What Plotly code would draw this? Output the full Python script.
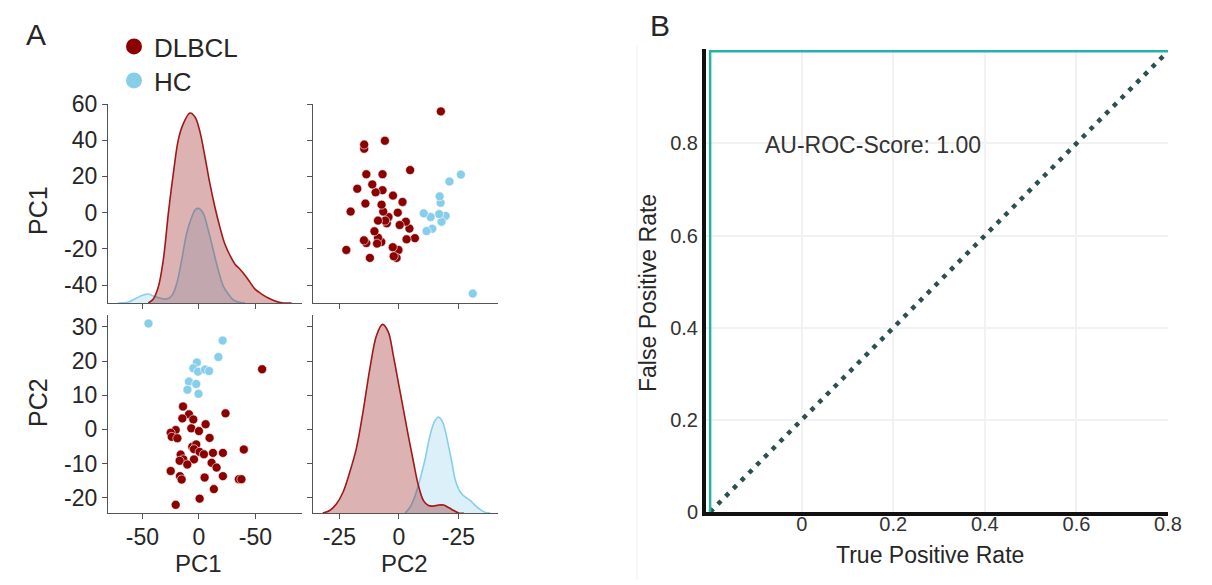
import plotly.graph_objects as go

# ---------------- data ----------------
groups = ["DLBCL", "HC"]

dlbcl_pc1 = [55.9, -14.1, 23.5, -8.8, -14.7, -5.0, 5.9, -6.8, 0.0, -20.6, -25.0, -24.1, -19.1,
             9.4, -5.9, -2.4, -4.4, 0.6, 4.4, 12.4, 21.2, 39.7, -16.2, -13.8, -17.1, -4.4,
             -10.3, 11.2, 15.6, -25.0, -16.8, -15.3, 5.0, 21.2, 35.3, 37.6, 13.2, 0.6, -20.6]
dlbcl_pc2 = [17.6, 6.7, 4.7, 4.4, 3.2, 2.9, 1.5, 0.3, -0.5, -0.2, -1.0, -2.2, -2.6,
             -2.5, -5.1, -4.4, -5.8, -6.6, -7.3, -6.9, -6.9, -5.9, -7.4, -8.8, -9.2, -8.8,
             -10.3, -9.8, -11.2, -12.2, -13.7, -14.7, -14.1, -13.7, -14.6, -14.6, -17.5, -20.3, -22.1]

hc_pc1 = [-44.7, 21.0, 17.2, -1.8, -5.0, -0.8, 5.4, 9.0, -8.9, -2.4, -10.2, -0.4]
hc_pc2 = [31.0, 26.0, 21.2, 19.6, 17.9, 16.9, 17.5, 17.1, 14.0, 13.3, 11.6, 10.4]

# KDE curves (value grid, density)
dlbcl_pc1_grid = [-44.8, -40.4, -36.0, -31.6, -27.1, -22.7, -18.3, -13.9, -8.0, -3.5, 0.9, 5.3, 9.7,
                  14.2, 18.6, 23.0, 27.4, 31.9, 36.3, 40.7, 45.1, 49.6, 55.5, 61.4, 67.3, 74.6, 82.0]
dlbcl_pc1_dens = [0, 0.0004, 0.0016, 0.0043, 0.0090, 0.0130, 0.0164, 0.0180, 0.0191, 0.0187, 0.0172,
                  0.0147, 0.0120, 0.0096, 0.0076, 0.0059, 0.0048, 0.0039, 0.0034, 0.0028, 0.0021,
                  0.0014, 0.0009, 0.0005, 0.0002, 0.0, 0]
hc_pc1_grid = [-71.4, -62.5, -55.2, -49.3, -44.8, -40.4, -34.5, -28.6, -24.2, -19.8, -15.3, -10.9,
               -6.5, -3.0, 0.0, 3.8, 8.3, 12.7, 17.1, 21.5, 26.0, 30.4, 34.8, 40.7]
hc_pc1_dens = [0, 0.0001, 0.0005, 0.0008, 0.0009, 0.0007, 0.0005, 0.0004, 0.0007, 0.0019, 0.0043,
               0.0070, 0.0086, 0.0094, 0.0095, 0.0090, 0.0073, 0.0053, 0.0033, 0.0017, 0.0009,
               0.0003, 0.0001, 0]

dlbcl_pc2_grid = [-32.0, -29.1, -26.3, -23.5, -20.7, -17.9, -15.1, -12.2, -9.4, -6.9, -4.5, -2.4,
                  -0.3, 1.8, 3.9, 6.1, 8.2, 10.3, 12.4, 14.5, 16.6, 18.7, 20.8, 23.0, 25.1, 27.2]
dlbcl_pc2_dens = [0, 0.0005, 0.0018, 0.0042, 0.0082, 0.0130, 0.0204, 0.0292, 0.0359, 0.0381, 0.0366,
                  0.0319, 0.0265, 0.0211, 0.0157, 0.0103, 0.0055, 0.0025, 0.0015, 0.0014, 0.0016,
                  0.0016, 0.0011, 0.0005, 0, 0]
hc_pc2_grid = [2.5, 4.6, 6.8, 8.9, 11.0, 12.4, 13.8, 15.2, 16.6, 18.0, 19.4, 20.8, 22.2, 23.7,
               25.8, 27.9, 30.0, 32.1, 34.2, 36.3, 38.4]
hc_pc2_dens = [0, 0.0011, 0.0035, 0.0069, 0.0109, 0.0143, 0.0170, 0.0187, 0.0194, 0.0187, 0.0167,
               0.0136, 0.0103, 0.0066, 0.0042, 0.0032, 0.0025, 0.0015, 0.0007, 0.0001, 0]

pc1_ticks = [-50, 0, 50]
pc1_ticktext = ["-50", "0", "-50"]
pc2_ticks = [-25, 0, 25]
pc2_ticktext = ["-25", "0", "-25"]
pc1_row_ticks = [60, 40, 20, 0, -20, -40]
pc1_row_ticktext = ["60", "40", "20", "0", "-20", "-40"]
pc2_row_ticks = [30, 20, 10, 0, -10, -20]
pc2_row_ticktext = ["30", "20", "10", "0", "-10", "-20"]

roc_x = [-0.2, -0.2, 0.8]
roc_y = [0.0, 1.0, 1.0]
chance_x = [-0.2, 0.8]
chance_y = [0.0, 1.0]
roc_ticks = [0, 0.2, 0.4, 0.6, 0.8]
roc_ticktext = ["0", "0.2", "0.4", "0.6", "0.8"]
auc_text = "AU-ROC-Score: 1.00"

# ---------------- style ----------------
W, H = 1212, 585
FONT = "Liberation Sans, Arial, sans-serif"
C_DL = "#8b0000"
C_HC = "#87ceeb"
FILL_DL = "rgba(139,0,0,0.30)"
FILL_HC = "rgba(135,206,235,0.30)"
AXC = "#555555"
TXT = "#262626"


def px(x):
    return x / W


def py(y):
    return 1 - y / H


fig = go.Figure()

# empty traces so that the base subplots of the diagonal panels exist
fig.add_trace(go.Scatter(x=[None], y=[None], xaxis="x", yaxis="y", showlegend=False))
fig.add_trace(go.Scatter(x=[None], y=[None], xaxis="x4", yaxis="y4", showlegend=False))

# Top-left: PC1 densities
fig.add_trace(go.Scatter(x=hc_pc1_grid, y=hc_pc1_dens, mode="lines", xaxis="x", yaxis="y5",
                         line=dict(color=C_HC, width=1.6, shape="spline"),
                         fill="tozeroy", fillcolor=FILL_HC, showlegend=False, hoverinfo="skip"))
fig.add_trace(go.Scatter(x=dlbcl_pc1_grid, y=dlbcl_pc1_dens, mode="lines", xaxis="x", yaxis="y5",
                         line=dict(color="#a11818", width=1.6, shape="spline"),
                         fill="tozeroy", fillcolor=FILL_DL, showlegend=False, hoverinfo="skip"))

mk_dl = dict(color=C_DL, size=9, line=dict(color="white", width=0.6))
mk_hc = dict(color=C_HC, size=9, line=dict(color="white", width=0.6))

# Top-right: x=PC2, y=PC1
fig.add_trace(go.Scatter(x=dlbcl_pc2, y=dlbcl_pc1, mode="markers", xaxis="x2", yaxis="y2",
                         marker=mk_dl, showlegend=False, name="DLBCL"))
fig.add_trace(go.Scatter(x=hc_pc2, y=hc_pc1, mode="markers", xaxis="x2", yaxis="y2",
                         marker=mk_hc, showlegend=False, name="HC"))
# Bottom-left: x=PC1, y=PC2
fig.add_trace(go.Scatter(x=dlbcl_pc1, y=dlbcl_pc2, mode="markers", xaxis="x3", yaxis="y3",
                         marker=mk_dl, showlegend=False, name="DLBCL"))
fig.add_trace(go.Scatter(x=hc_pc1, y=hc_pc2, mode="markers", xaxis="x3", yaxis="y3",
                         marker=mk_hc, showlegend=False, name="HC"))

# Bottom-right: PC2 densities
fig.add_trace(go.Scatter(x=hc_pc2_grid, y=hc_pc2_dens, mode="lines", xaxis="x4", yaxis="y6",
                         line=dict(color=C_HC, width=1.6, shape="spline"),
                         fill="tozeroy", fillcolor=FILL_HC, showlegend=False, hoverinfo="skip"))
fig.add_trace(go.Scatter(x=dlbcl_pc2_grid, y=dlbcl_pc2_dens, mode="lines", xaxis="x4", yaxis="y6",
                         line=dict(color="#a11818", width=1.6, shape="spline"),
                         fill="tozeroy", fillcolor=FILL_DL, showlegend=False, hoverinfo="skip"))

# ROC
fig.add_trace(go.Scatter(x=chance_x, y=chance_y, mode="lines", xaxis="x5", yaxis="y7",
                         line=dict(color="#2c4f4f", width=4.5, dash="4.5px,6.5px"),
                         showlegend=False))
fig.add_trace(go.Scatter(x=roc_x, y=roc_y, mode="lines", xaxis="x5", yaxis="y7",
                         line=dict(color="#26b3a6", width=2.5), showlegend=False))

# legend entries (one legend box per entry so the spacing can follow the reference)
fig.add_trace(go.Scatter(x=[None], y=[None], mode="markers", name=groups[0], legend="legend",
                         marker=dict(color=C_DL, size=17), xaxis="x3", yaxis="y3"))
fig.add_trace(go.Scatter(x=[None], y=[None], mode="markers", name=groups[1], legend="legend2",
                         marker=dict(color=C_HC, size=17), xaxis="x3", yaxis="y3"))

base_ax = dict(showline=True, linecolor=AXC, linewidth=1.3, ticks="outside", ticklen=5,
               tickwidth=1.2, tickcolor=AXC, showgrid=False, zeroline=False,
               tickfont=dict(size=23, color=TXT, family=FONT))

XA = [px(108), px(302)]
XB = [px(313), px(498)]
YT = [py(303), py(104)]
YB = [py(513), py(315)]
pc1_range = [-80.5, 91.2]
pc2_range = [-36.1, 41.6]
pc1_row_range = [-49.9, 60]
pc2_row_range = [-24.5, 33.5]

leg_common = dict(xanchor="left", yanchor="top", font=dict(size=26, color=TXT, family=FONT),
                  bgcolor="rgba(0,0,0,0)", itemsizing="trace", borderwidth=0)

fig.update_layout(
    width=W, height=H, autosize=False,
    margin=dict(l=0, r=0, t=0, b=0, pad=0, autoexpand=False),
    paper_bgcolor="white", plot_bgcolor="rgba(0,0,0,0)",
    font=dict(family=FONT, color=TXT),
    xaxis=dict(base_ax, domain=XA, range=pc1_range, anchor="y", tickvals=pc1_ticks,
               showticklabels=False),
    yaxis=dict(base_ax, domain=YT, range=pc1_row_range, anchor="x", tickvals=pc1_row_ticks,
               ticktext=pc1_row_ticktext),
    yaxis5=dict(overlaying="y", anchor="x", domain=YT, range=[0, 0.02], showline=False,
                showticklabels=False, ticks="", showgrid=False, zeroline=False),
    xaxis2=dict(base_ax, domain=XB, range=pc2_range, anchor="y2", tickvals=pc2_ticks,
                showticklabels=False),
    yaxis2=dict(base_ax, domain=YT, range=pc1_row_range, anchor="x2", tickvals=pc1_row_ticks,
                showticklabels=False),
    xaxis3=dict(base_ax, domain=XA, range=pc1_range, anchor="y3", tickvals=pc1_ticks,
                ticktext=pc1_ticktext, ticklabelstandoff=-2),
    yaxis3=dict(base_ax, domain=YB, range=pc2_row_range, anchor="x3", tickvals=pc2_row_ticks,
                ticktext=pc2_row_ticktext),
    xaxis4=dict(base_ax, domain=XB, range=pc2_range, anchor="y4", tickvals=pc2_ticks,
                ticktext=pc2_ticktext, ticklabelstandoff=-2),
    yaxis4=dict(base_ax, domain=YB, range=pc2_row_range, anchor="x4", tickvals=pc2_row_ticks,
                showticklabels=False),
    yaxis6=dict(overlaying="y4", anchor="x4", domain=YB, range=[0, 0.04], showline=False,
                showticklabels=False, ticks="", showgrid=False, zeroline=False),
    xaxis5=dict(domain=[px(706), px(1168)], range=[-0.209, 0.8], anchor="y7",
                tickvals=roc_ticks, ticktext=roc_ticktext, showline=True, linecolor="#111111",
                linewidth=4, ticks="", showgrid=True, gridcolor="#f2f2f2", gridwidth=1.5,
                zeroline=False, ticklabelstandoff=-9,
                tickfont=dict(size=20, color="#333333", family=FONT)),
    yaxis7=dict(domain=[py(512), py(49)], range=[0, 1.005], anchor="x5",
                tickvals=roc_ticks, ticktext=roc_ticktext, showline=True, linecolor="#111111",
                linewidth=4, ticks="", showgrid=True, gridcolor="#f2f2f2", gridwidth=1.5,
                zeroline=False, tickfont=dict(size=20, color="#333333", family=FONT)),
    legend=dict(leg_common, x=px(114), y=py(23)),
    legend2=dict(leg_common, x=px(114), y=py(57)),
    showlegend=True,
)

ann = [
    dict(text="A", x=px(36), y=py(34), size=30),
    dict(text="B", x=px(660), y=py(26), size=30),
    dict(text="PC1", x=px(38), y=py(211), size=25, angle=-90),
    dict(text="PC2", x=px(38), y=py(403), size=25, angle=-90),
    dict(text="PC1", x=px(198), y=py(563), size=24),
    dict(text="PC2", x=px(404), y=py(563), size=24),
    dict(text="False Positive Rate", x=px(648), y=py(293), size=23, angle=-90),
    dict(text="True Positive Rate", x=px(930), y=py(555), size=23),
]
for a in ann:
    fig.add_annotation(text=a["text"], x=a["x"], y=a["y"], xref="paper", yref="paper",
                       showarrow=False, textangle=a.get("angle", 0),
                       font=dict(size=a["size"], color=TXT, family=FONT),
                       xanchor="center", yanchor="middle")

fig.add_annotation(text=auc_text, x=-0.085, y=0.797, xref="x5", yref="y7", showarrow=False,
                   xanchor="left", yanchor="middle", font=dict(size=23, color="#333333", family=FONT))

fig.add_shape(type="line", xref="paper", yref="paper", x0=px(637), x1=px(637), y0=py(45), y1=py(580),
              line=dict(color="#eeeeee", width=1))

fig.write_html("out.html", config={"responsive": False})
